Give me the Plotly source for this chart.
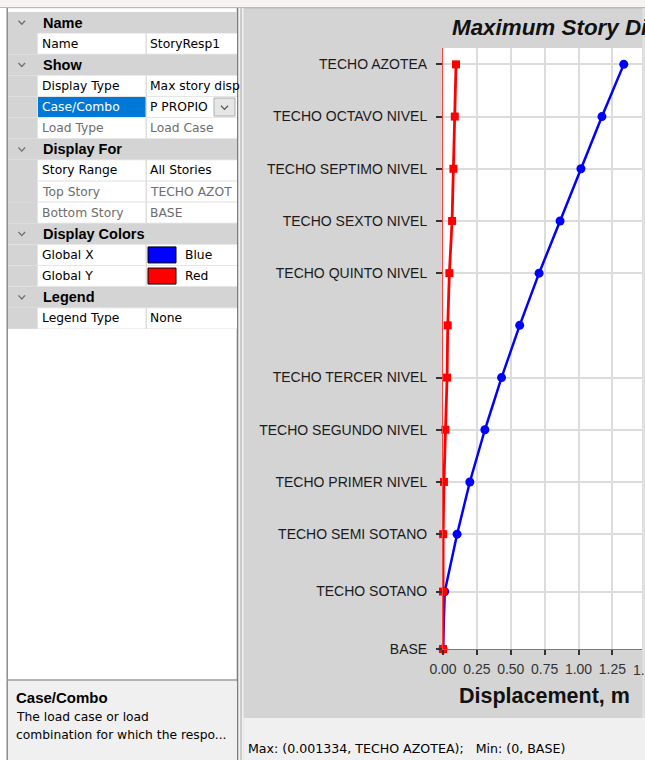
import plotly.graph_objects as go

# ---------------- data ----------------
stories = ["BASE", "TECHO SOTANO", "TECHO SEMI SOTANO", "TECHO PRIMER NIVEL",
           "TECHO SEGUNDO NIVEL", "TECHO TERCER NIVEL", "TECHO CUARTO NIVEL",
           "TECHO QUINTO NIVEL", "TECHO SEXTO NIVEL", "TECHO SEPTIMO NIVEL",
           "TECHO OCTAVO NIVEL", "TECHO AZOTEA"]
elevations = [0.0, 3.3, 6.6, 9.6, 12.6, 15.6, 18.6, 21.6, 24.6, 27.6, 30.6, 33.6]
label_shown = [True, True, True, True, True, True, False, True, True, True, True, True]
disp_global_x = [0.0, 0.013, 0.104, 0.198, 0.309, 0.432, 0.566, 0.709, 0.864, 1.018, 1.173, 1.334]
disp_global_y = [0.0, 0.0, 0.001, 0.007, 0.018, 0.030, 0.035, 0.047, 0.067, 0.077, 0.087, 0.096]
x_tick_values = [0.0, 0.25, 0.50, 0.75, 1.00, 1.25, 1.50]

grid_rows = [
    ("header", "Name", None),
    ("normal", "Name", "StoryResp1"),
    ("header", "Show", None),
    ("normal", "Display Type", "Max story disp"),
    ("selected", "Case/Combo", "P PROPIO"),
    ("disabled", "Load Type", "Load Case"),
    ("header", "Display For", None),
    ("normal", "Story Range", "All Stories"),
    ("disabled", "Top Story", "TECHO AZOT"),
    ("disabled", "Bottom Story", "BASE"),
    ("header", "Display Colors", None),
    ("color", "Global X", "Blue"),
    ("color", "Global Y", "Red"),
    ("header", "Legend", None),
    ("normal", "Legend Type", "None"),
]
swatch = {"Blue": "#0000ff", "Red": "#ff0000"}
desc_title = "Case/Combo"
desc_lines = ["The load case or load", "combination for which the respo..."]
status_text = "Max: (0.001334, TECHO AZOTEA);\u00a0\u00a0\u00a0Min: (0, BASE)"
chart_title = "Maximum Story Displacements"
x_title = "Displacement, m"

# ---------------- geometry ----------------
W, H = 645, 760
L, R, T, B = 443, 3, 48, 111
PW, PH = W - L - R, H - T - B
px_per_unit = 135.5
x_max = PW / px_per_unit
y_top = 34.54


def px(x):
    return (x - L) / PW


def py(y):
    return (H - B - y) / PH


shapes = []
annotations = []


def rect(x0, y0, x1, y1, fill, line_color=None, lw=0):
    shapes.append(dict(type="rect", xref="paper", yref="paper",
                       x0=px(x0), x1=px(x1), y0=py(y1), y1=py(y0),
                       fillcolor=fill, line=dict(color=line_color or fill, width=lw),
                       layer="above"))


def hline(x0, x1, y, color, w=1.0):
    shapes.append(dict(type="line", xref="paper", yref="paper",
                       x0=px(x0), x1=px(x1), y0=py(y), y1=py(y),
                       line=dict(color=color, width=w)))


def vline(x, y0, y1, color, w=1.0):
    shapes.append(dict(type="line", xref="paper", yref="paper",
                       x0=px(x), x1=px(x), y0=py(y0), y1=py(y1),
                       line=dict(color=color, width=w)))


def chevron(cx, cy, hw, hh, color, w=1.3):
    path = (f"M {px(cx - hw)} {py(cy - hh)} L {px(cx)} {py(cy + hh)} "
            f"L {px(cx + hw)} {py(cy - hh)}")
    shapes.append(dict(type="path", xref="paper", yref="paper", path=path,
                       line=dict(color=color, width=w)))


def text(x, y, s, size=12.3, color="#000000", family="DejaVu Sans", xanchor="left"):
    annotations.append(dict(xref="paper", yref="paper", x=px(x), y=py(y), text=s,
                            showarrow=False, xanchor=xanchor, yanchor="middle",
                            font=dict(size=size, color=color, family=family)))


# top strip
rect(0, 0, W, 7.5, "#f7f3f3")
hline(0, W, 7.8, "#a8a8a8", 1)

# left panel chrome
rect(0, 8, 243.5, H, "#f0f0f0")
rect(0, 8, 6.5, H, "#ffffff")
rect(8, 9, 237, 679, "#ffffff")
vline(7.2, 8, H, "#8c8c8c", 1.5)
vline(237.5, 8, H, "#7c7c7c", 1.5)
vline(241, 8, H, "#a8a8a8", 1)

# property grid
row_h = 21.13
first_center = 22.5
for i, (kind, name, value) in enumerate(grid_rows):
    c = first_center + i * row_h
    top, bot = c - row_h / 2, c + row_h / 2
    if kind == "header":
        rect(8, top, 237, bot, "#d4d4d4")
        chevron(21.8, c, 3.3, 1.8, "#707070", 1.3)
        text(41, c, f"<b>{name}</b>", size=14.5, family="Liberation Sans")
        continue
    rect(8, top, 37.5, bot, "#d4d4d4")
    rect(37.5, top, 237, bot, "#dedede")
    name_fill = "#0078d7" if kind == "selected" else "#ffffff"
    rect(38, top + 0.5, 145.5, bot - 0.5, name_fill)
    rect(147, top + 0.5, 237, bot - 0.5, "#ffffff")
    name_col = "#ffffff" if kind == "selected" else ("#6d6d6d" if kind == "disabled" else "#000000")
    val_col = "#6d6d6d" if kind == "disabled" else "#000000"
    text(40, c, name, color=name_col)
    if kind == "color":
        rect(148, c - 8, 176, c + 8, swatch[value], "#000000", 1)
        text(183, c, value, color=val_col)
    else:
        text(148, c, value, color=val_col)
    if kind == "selected":
        rect(214, c - 9, 235, c + 9, "#e6e6e6", "#adadad", 1)
        chevron(224.5, c + 0.5, 3.5, 1.8, "#555555", 1.2)

# description panel
hline(7, 237, 680, "#a0a0a0", 1.5)
rect(8, 681.5, 237, H, "#f0f0f0")
text(14, 697, f"<b>{desc_title}</b>", size=15, family="Liberation Sans")
text(14, 717, desc_lines[0])
text(14, 735, desc_lines[1])

# status bar
rect(243.5, 718, W, H, "#f0f0f0")
text(246, 748, status_text, size=12.6)

# chart panel right edge
vline(643.5, 8, 718, "#e4e4e4", 2)

# chart titles
text(450, 27.5, f"<b><i>{chart_title}</i></b>", size=22.4, color="#111111", family="Liberation Sans")
annotations.append(dict(xref="paper", yref="paper", x=0.5 + (544 - (L + PW / 2)) / PW, y=py(696),
                        text=f"<b>{x_title}</b>", showarrow=False, xanchor="center", yanchor="middle",
                        font=dict(size=21.5, color="#111111", family="Liberation Sans")))
# tick label of 1.50 falls just beyond the visible plot edge (partially cut)
for v in x_tick_values:
    if v > x_max:
        annotations.append(dict(xref="paper", yref="paper", x=v / x_max, y=py(670),
                                text=f"{v:.2f}", showarrow=False, xanchor="center", yanchor="middle",
                                font=dict(size=14, color="#333333", family="Liberation Sans")))

# ---------------- figure ----------------
fig = go.Figure()
fig.add_trace(go.Scatter(x=disp_global_x, y=elevations, mode="lines+markers", name="Global X",
                         line=dict(color="#0000ff", width=2.5),
                         marker=dict(symbol="circle", size=9, color="#0000ff"),
                         cliponaxis=False))
fig.add_trace(go.Scatter(x=disp_global_y, y=elevations, mode="lines+markers", name="Global Y",
                         line=dict(color="#ff0000", width=2.8),
                         marker=dict(symbol="square", size=8, color="#ff0000"),
                         cliponaxis=False))

fig.update_layout(
    width=W, height=H,
    margin=dict(l=L, r=R, t=T, b=B, pad=0, autoexpand=False),
    paper_bgcolor="#d4d4d4", plot_bgcolor="#ffffff",
    showlegend=False,
    font=dict(family="Liberation Sans"),
    shapes=shapes, annotations=annotations,
    xaxis=dict(range=[0, x_max], tickvals=x_tick_values, tickformat=".2f",
               ticks="outside", ticklen=5, tickwidth=1.5, tickcolor="#333333",
               ticklabelstandoff=2,
               showgrid=True, gridcolor="#dcdcdc", gridwidth=1.5,
               showline=True, linecolor="#ff4040", linewidth=1, zeroline=False,
               tickfont=dict(family="Liberation Sans", size=14, color="#333333")),
    yaxis=dict(range=[0, y_top],
               tickvals=[e for e, s in zip(elevations, label_shown) if s],
               ticktext=[n for n, s in zip(stories, label_shown) if s],
               ticks="outside", ticklen=6, tickwidth=1.5, tickcolor="#333333",
               ticklabelstandoff=6,
               showgrid=True, gridcolor="#dcdcdc", gridwidth=1.5,
               showline=True, linecolor="#ff4040", linewidth=1, zeroline=False,
               tickfont=dict(family="Liberation Sans", size=14, color="#1a1a1a")),
)

fig.write_html("out.html", config={"displayModeBar": False},
               post_script="document.body.style.margin='0';document.body.style.overflow='hidden';")
